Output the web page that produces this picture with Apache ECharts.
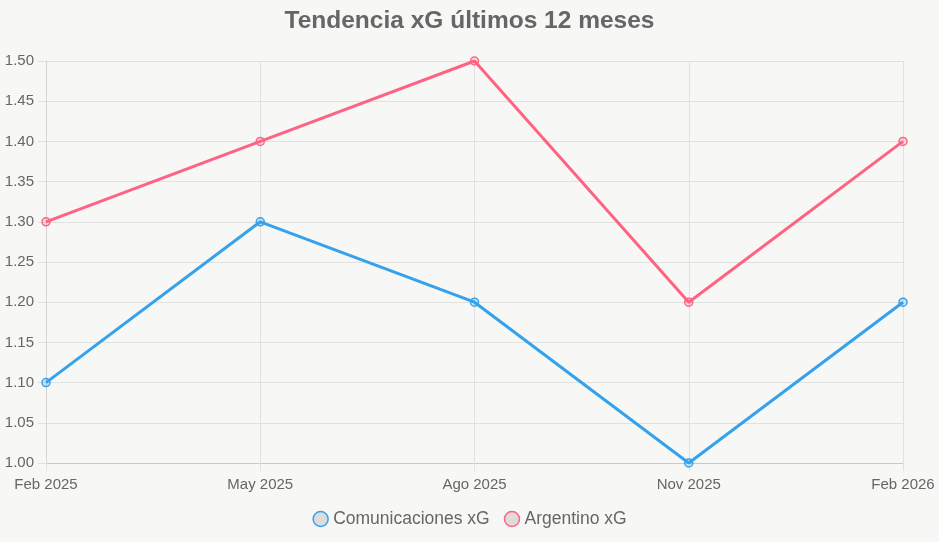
<!DOCTYPE html>
<html>
<head>
<meta charset="utf-8">
<script src="https://cdn.jsdelivr.net/npm/echarts@6/dist/echarts.min.js"></script>
<style>
  html, body { margin: 0; padding: 0; background: #f7f7f5; }
  #chart { width: 939px; height: 542px; }
</style>
</head>
<body>
<div id="chart"></div>
<script>
const months = ["Feb 2025", "May 2025", "Ago 2025", "Nov 2025", "Feb 2026"];
const comunicacionesXg = [1.1, 1.3, 1.2, 1.0, 1.2];
const argentinoXg = [1.3, 1.4, 1.5, 1.2, 1.4];

const font = "Liberation Sans, Arial, Helvetica, sans-serif";
const gridColor = "#e1e1e1";

const chart = echarts.init(document.getElementById("chart"));

function lineSeries(name, data, color, fill) {
  return {
    name: name,
    type: "line",
    data: data,
    symbol: "circle",
    symbolSize: 8,
    itemStyle: { color: fill, borderColor: color, borderWidth: 1.5 },
    lineStyle: { color: color, width: 3 },
    emphasis: { disabled: true },
    z: 3
  };
}

chart.setOption({
  backgroundColor: "#f7f7f5",
  animation: false,
  textStyle: { fontFamily: font },
  title: {
    text: "Tendencia xG últimos 12 meses",
    left: "center",
    top: 4,
    textStyle: { fontSize: 24.5, fontWeight: "bold", color: "#666", fontFamily: font }
  },
  legend: {
    bottom: 9,
    left: "center",
    icon: "circle",
    itemWidth: 15,
    itemHeight: 15,
    itemGap: 14,
    textStyle: { fontSize: 17.5, color: "#666", fontFamily: font },
    data: [
      { name: "Comunicaciones xG", itemStyle: { color: "#dcdcdc", borderColor: "#36a2eb", borderWidth: 1.5 } },
      { name: "Argentino xG", itemStyle: { color: "#e0dada", borderColor: "#ff6384", borderWidth: 1.5 } }
    ]
  },
  grid: { left: 46, right: 36, top: 61, bottom: 79, containLabel: false },
  xAxis: {
    type: "category",
    data: months,
    boundaryGap: false,
    axisLine: { lineStyle: { color: "#c8c8c8", width: 1 } },
    axisTick: { show: true, length: 8, alignWithLabel: true, lineStyle: { color: gridColor } },
    axisLabel: { fontSize: 15, color: "#666", margin: 14, fontFamily: font },
    splitLine: { show: true, lineStyle: { color: gridColor } }
  },
  yAxis: {
    type: "value",
    min: 1.0,
    max: 1.5,
    interval: 0.05,
    axisLine: { show: true, lineStyle: { color: "#d6d6d6", width: 1 } },
    axisTick: { show: true, length: 8, lineStyle: { color: gridColor } },
    axisLabel: {
      fontSize: 15, color: "#666", margin: 12, fontFamily: font,
      formatter: (v) => v.toFixed(2)
    },
    splitLine: { show: true, lineStyle: { color: gridColor } }
  },
  series: [
    lineSeries("Comunicaciones xG", comunicacionesXg, "#36a2eb", "rgba(54,162,235,0.2)"),
    lineSeries("Argentino xG", argentinoXg, "#ff6384", "rgba(255,99,132,0.2)")
  ]
});
</script>
</body>
</html>
